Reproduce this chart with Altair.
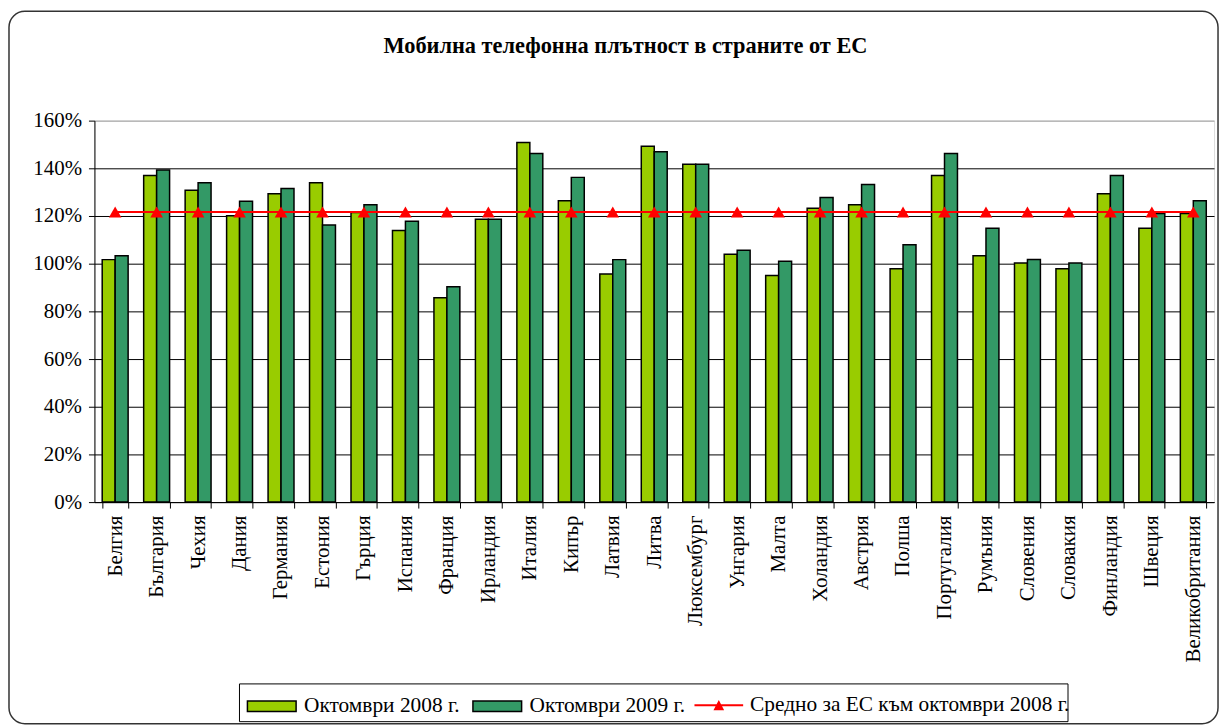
import altair as alt
import pandas as pd

countries = ["Белгия", "България", "Чехия", "Дания", "Германия", "Естония", "Гърция",
             "Испания", "Франция", "Ирландия", "Италия", "Кипър", "Латвия", "Литва",
             "Люксембург", "Унгария", "Малта", "Холандия", "Австрия", "Полша",
             "Португалия", "Румъния", "Словения", "Словакия", "Финландия", "Швеция",
             "Великобритания"]
oct2008 = [101.7, 137.0, 130.8, 120.1, 129.3, 133.9, 121.5, 113.9, 85.7, 118.6, 150.8, 126.4,
           95.7, 149.3, 141.7, 104.0, 95.0, 123.2, 124.7, 97.9, 137.0, 103.3, 100.3, 97.9,
           129.3, 114.9, 121.0]
oct2009 = [103.3, 139.3, 133.9, 126.2, 131.5, 116.2, 124.7, 117.8, 90.3, 118.6, 146.2, 136.2,
           101.7, 146.9, 141.7, 105.6, 101.0, 127.8, 133.2, 107.9, 146.2, 114.9, 101.8, 100.3,
           137.0, 121.0, 126.4]
eu_average = 121.7

series_names = ["Октомври 2008 г.", "Октомври 2009 г."]
series_colors = ["#99CC00", "#339966"]
avg_name = "Средно за ЕС към октомври 2008 г."
avg_color = "#FF0000"
y_ticks = [0, 20, 40, 60, 80, 100, 120, 140, 160]
title_text = "Мобилна телефонна плътност в страните от ЕС"

FONT = "Liberation Serif"

bars_df = pd.DataFrame(
    [{"country": c, "series": series_names[0], "value": v} for c, v in zip(countries, oct2008)]
    + [{"country": c, "series": series_names[1], "value": v} for c, v in zip(countries, oct2009)]
)
avg_df = pd.DataFrame({"country": countries, "series": avg_name,
                       "value": [eu_average] * len(countries)})

x_scale = alt.Scale(paddingInner=0.375, paddingOuter=0.1875)
y_scale = alt.Scale(domain=[0, 160], nice=False)

rect_path = "M-1,-0.22H1V0.22H-1Z"
line_path = "M-1,-0.045H1V0.045H-1Z M0,-0.22L0.22,0.2L-0.22,0.2Z"

legend_common = dict(title=None, orient="none", direction="horizontal", padding=0,
                     labelFont=FONT, labelFontSize=21.5, labelColor="black", labelOffset=7,
                     labelLimit=0, columnPadding=10, symbolSize=2401)
bar_legend = alt.Legend(legendX=153, legendY=564, symbolType=rect_path,
                        symbolStrokeColor="black", symbolStrokeWidth=1.5, symbolOpacity=1,
                        **legend_common)
avg_legend = alt.Legend(legendX=604, legendY=564, symbolType=line_path,
                        symbolFillColor=avg_color, symbolStrokeColor=avg_color,
                        symbolStrokeWidth=0, symbolOpacity=1, **legend_common)

x_axis = alt.Axis(title=None, labelAngle=270, labelFont=FONT, labelFontSize=21,
                  labelColor="black", tickBand="extent", tickSize=6, tickColor="black",
                  domainColor="black", grid=False, labelPadding=7)
y_axis = alt.Axis(title=None, values=y_ticks, labelExpr="datum.value + '%'",
                  labelFont=FONT, labelFontSize=21, labelColor="black",
                  tickSize=6, tickColor="black", domainColor="black", labelPadding=7,
                  grid=True,
                  gridColor={"condition": {"test": "datum.value >= 160", "value": "#999999"},
                             "value": "black"},
                  gridWidth=1)

one = pd.DataFrame({"k": [0]})
frame = alt.Chart(one).mark_rect(
    filled=False, stroke="#333333", strokeWidth=1.5, cornerRadius=16
).encode(x=alt.value(-86), x2=alt.value(1131), y=alt.value(-110), y2=alt.value(607))
legend_box = alt.Chart(one).mark_rect(
    fill="white", stroke="black", strokeWidth=1
).encode(x=alt.value(146), x2=alt.value(980), y=alt.value(567), y2=alt.value(605))

bars = alt.Chart(bars_df).mark_bar(stroke="black", strokeWidth=1.5).encode(
    x=alt.X("country:N", sort=countries, scale=x_scale, axis=x_axis),
    xOffset=alt.XOffset("series:N", sort=series_names,
                        scale=alt.Scale(paddingInner=0, paddingOuter=0)),
    y=alt.Y("value:Q", scale=y_scale, axis=y_axis),
    color=alt.Color("series:N", sort=series_names,
                    scale=alt.Scale(domain=series_names, range=series_colors),
                    legend=bar_legend),
)

avg_line = alt.Chart(avg_df).mark_line(strokeWidth=2, color=avg_color).encode(
    x=alt.X("country:N", sort=countries),
    y=alt.Y("value:Q"),
)
avg_pts = alt.Chart(avg_df).mark_point(shape="triangle-up", filled=True, size=160,
                                        color=avg_color, strokeWidth=0).encode(
    x=alt.X("country:N", sort=countries),
    y=alt.Y("value:Q"),
    opacity=alt.Opacity("series:N", scale=alt.Scale(domain=[avg_name], range=[1]),
                        legend=avg_legend),
)

chart = alt.layer(frame, legend_box, bars, avg_line, avg_pts).properties(
    width=1127, height=384,
    title=alt.TitleParams(title_text, font=FONT, fontSize=22.5, fontWeight="bold",
                          color="black", anchor="middle", dx=-29, offset=-47),
    autosize=alt.AutoSizeParams(type="none"),
    padding={"left": 87, "top": 111, "right": 7, "bottom": 223},
).resolve_legend(color="independent", opacity="independent"
).configure_view(stroke="#808080", strokeWidth=1).configure(background="white")

chart.save("out.html", embed_options={"renderer": "svg", "actions": False})
